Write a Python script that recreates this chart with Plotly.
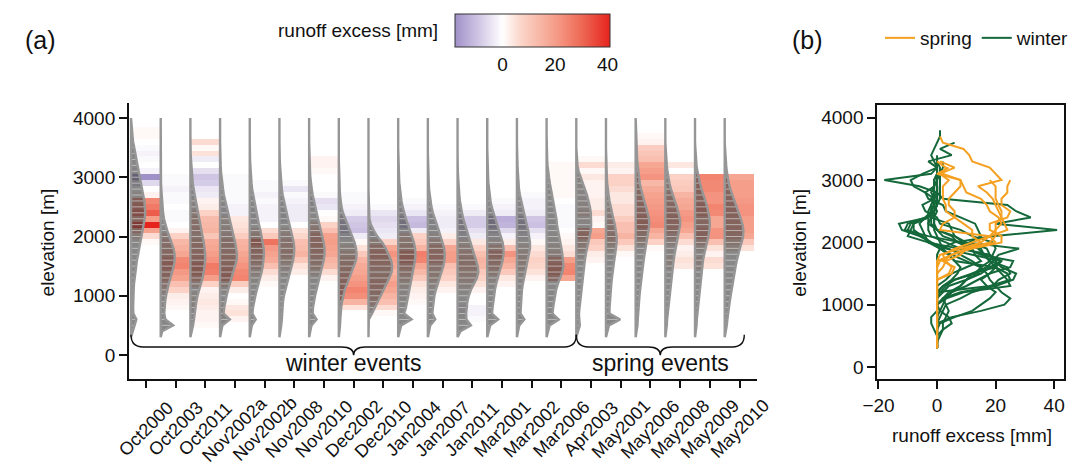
import plotly.graph_objects as go

# ---------------------------------------------------------------- data
ELEVATION = [300, 400, 500, 600, 700, 800, 900, 1000, 1100, 1200,
             1300, 1400, 1500, 1600, 1700, 1800, 1900, 2000, 2100, 2200,
             2300, 2400, 2500, 2600, 2700, 2800, 2900, 3000, 3100, 3200,
             3300, 3400, 3500, 3600, 3700, 3800, 3900, 4000]

EVENTS = ["Oct2000", "Oct2003", "Oct2011", "Nov2002a", "Nov2002b", "Nov2008",
          "Nov2010", "Dec2002", "Dec2010", "Jan2004", "Jan2007", "Jan2011",
          "Mar2001", "Mar2002", "Mar2006", "Apr2003", "May2001", "May2006",
          "May2008", "May2009", "May2010"]

SEASON = ["winter", "winter", "winter", "winter", "winter", "winter",
          "winter", "winter", "winter", "winter", "winter", "winter",
          "winter", "winter", "winter", "spring", "spring", "spring",
          "spring", "spring", "spring"]

N = None

# runoff excess [mm] per 100 m elevation band (300 ... 4000 m)
EXCESS_OCT2000 = [0, 0, 0, 0, 0, 0, 0, 0, 0, 0,
                  0, 0, 0, 0, 0, 0, 1, 6, 19, 41,
                  20, 32, 27, 24, 2, 0, -6, -18, -2, 0,
                  -1, -2, -1, 0, 1, 1, N, N]
EXCESS_OCT2003 = [0, 0, 0, 0, 0, 1, 2, 3, 8, 12,
                  19, 21, 25, 24, 18, 16, 14, 8, 2, 0,
                  -1, -1, 0, -1, -1, -2, -1, -1, 0, 0,
                  0, 0, N, N, N, N, N, N]
EXCESS_OCT2011 = [0, 0, 1, 2, 2, 3, 4, 3, 2, 8,
                  20, 26, 27, 22, 20, 18, 17, 11, 15, 14,
                  13, 8, 3, 2, -3, -4, -8, -9, -5, 0,
                  -3, 5, 1, 6, N, N, N, N]
EXCESS_NOV2002A = [0, 0, 0, 2, 5, 4, 1, 0, 3, 9,
                   25, 24, 22, 20, 18, 16, 15, 9, 6, 5,
                   4, -2, -2, -1, -1, -1, -1, -1, 0, 0,
                   0, N, N, N, N, N, N, N]
EXCESS_NOV2002B = [0, 0, 0, 0, 0, 0, 0, 0, 0, 1,
                   3, 6, 12, 17, 19, 21, 28, 10, 6, 0,
                   -2, -2, -2, -1, -2, -1, -1, 0, 0, 0,
                   N, N, N, N, N, N, N, N]
EXCESS_NOV2008 = [0, 0, 0, 0, 0, 0, 0, 0, 0, 0,
                  0, 3, 5, 10, 15, 13, 12, 7, 5, 0,
                  -3, -3, -3, -2, -1, -4, -1, 0, 0, 0,
                  N, N, N, N, N, N, N, N]
EXCESS_NOV2010 = [0, 0, 0, 0, 0, 0, 0, 0, 0, 0,
                  2, 6, 13, 15, 18, 19, 20, 19, 12, 8,
                  1, 0, -4, -5, -1, 0, 0, 0, 1, 2,
                  2, N, N, N, N, N, N, N]
EXCESS_DEC2002 = [0, 0, 0, 0, 0, 5, 15, 23, 25, 22,
                  20, 18, 17, 15, 10, 5, 1, -3, -10, -9,
                  -8, -3, -2, -1, -1, 0, 0, 0, N, N,
                  N, N, N, N, N, N, N, N]
EXCESS_DEC2010 = [0, 0, 0, 0, 1, 6, 12, 15, 18, 20,
                  17, 15, 18, 20, 22, 18, 8, -3, -4, -5,
                  -6, -4, -1, 0, 0, 0, 0, N, N, N,
                  N, N, N, N, N, N, N, N]
EXCESS_JAN2004 = [0, 0, 0, 0, 0, 0, 1, 2, 3, 5,
                  10, 14, 18, 25, 26, 15, 10, 8, -3, -11,
                  -10, -4, -2, -1, 0, 0, 0, 0, N, N,
                  N, N, N, N, N, N, N, N]
EXCESS_JAN2007 = [0, 0, 0, 0, 0, 0, 0, 0, 2, 4,
                  8, 10, 12, 20, 20, 18, 8, 3, -2, -3,
                  -3, -2, -1, 0, 0, 0, 0, N, N, N,
                  N, N, N, N, N, N, N, N]
EXCESS_JAN2011 = [0, 0, 0, -1, -2, -2, 0, 0, 2, 5,
                  8, 10, 14, 15, 12, 8, 4, -3, -5, -8,
                  -8, -3, -1, 0, 0, 0, 0, N, N, N,
                  N, N, N, N, N, N, N, N]
EXCESS_MAR2001 = [0, 0, 0, 0, 0, 0, 0, 0, 0, 2,
                  4, 10, 15, 18, 22, 12, 3, -2, -6, -12,
                  -13, -3, -2, -1, 0, 0, 0, N, N, N,
                  N, N, N, N, N, N, N, N]
EXCESS_MAR2002 = [0, 0, 0, 0, 0, 0, 0, 0, 0, 0,
                  2, 5, 7, 8, 6, 4, 1, -2, -5, -10,
                  -9, -3, -2, -2, -1, 0, 0, N, N, N,
                  N, N, N, N, N, N, N, N]
EXCESS_MAR2006 = [0, 0, 0, 0, 0, 0, 0, 0, 0, 0,
                  18, 25, 24, 20, 6, 4, 2, 1, 0, -1,
                  -1, -1, -1, 0, 1, 1, 1, 1, 1, 1,
                  0, N, N, N, N, N, N, N]
EXCESS_APR2003 = [0, 0, 0, 0, 0, 0, 0, 0, 0, 0,
                  0, 0, 0, 2, 3, 8, 10, 20, 18, 1,
                  2, 6, 3, 3, 2, 2, 2, 4, 1, 6,
                  1, N, N, N, N, N, N, N]
EXCESS_MAY2001 = [0, 0, 0, 0, 0, 0, 0, 0, 0, 0,
                  0, 0, 0, 0, 1, 5, 10, 15, 12, 12,
                  9, 6, 6, 4, 4, 6, 8, 8, 2, 3,
                  0, N, N, N, N, N, N, N]
EXCESS_MAY2006 = [0, 0, 0, 0, 0, 0, 0, 0, 0, 0,
                  0, 0, 0, 0, 0, 1, 8, 15, 18, 24,
                  23, 22, 21, 20, 19, 17, 14, 22, 20, 18,
                  12, 11, 9, 2, 1, N, N, N]
EXCESS_MAY2008 = [0, 0, 0, 0, 0, 0, 0, 0, 0, 0,
                  0, 0, 4, 5, 3, 2, 6, 12, 18, 20,
                  22, 21, 18, 17, 15, 10, 9, 8, 0, 4,
                  N, N, N, N, N, N, N, N]
EXCESS_MAY2009 = [0, 0, 0, 0, 0, 0, 0, 0, 0, 0,
                  0, 0, 5, 6, 2, 5, 12, 22, 22, 18,
                  18, 24, 25, 22, 22, 24, 24, 25, N, N,
                  N, N, N, N, N, N, N, N]
EXCESS_MAY2010 = [0, 0, 0, 0, 0, 0, 0, 0, 0, 0,
                  0, 0, 0, 0, 0, 5, 10, 18, 20, 20,
                  20, 22, 22, 21, 20, 20, 20, 18, N, N,
                  N, N, N, N, N, N, N, N]

# relative catchment area per elevation band (violin half-width, fraction of a slot)
AREA_OCT2000 = [0, .05, .12, .18, .08, .07, .07, .08, .09, .10,
                .12, .14, .17, .20, .24, .28, .32, .36, .40, .43,
                .46, .48, .47, .45, .41, .37, .33, .29, .25, .21,
                .17, .13, .10, .07, .05, .03, .02, 0]
AREA_OCT2003 = [0, .05, .42, .16, .12, .13, .15, .18, .22, .27,
                .33, .39, .44, .47, .47, .43, .37, .29, .22, .16,
                .11, .08, .06, .04, .03, .02, .01, .01, .01, 0,
                0, 0, 0, 0, 0, 0, 0, 0]
AREA_OCT2011 = [0, .05, .09, .12, .14, .17, .20, .24, .30, .36,
                .41, .45, .48, .50, .50, .48, .45, .41, .37, .33,
                .29, .25, .21, .17, .14, .11, .08, .06, .04, .03,
                .02, .01, 0, 0, 0, 0, 0, 0]
AREA_NOV2002A = [0, .04, .08, .33, .12, .14, .17, .22, .27, .33,
                 .40, .46, .52, .56, .57, .55, .51, .46, .41, .36,
                 .31, .26, .21, .17, .13, .10, .07, .05, .03, .02,
                 .01, 0, 0, 0, 0, 0, 0, 0]
AREA_NOV2002B = [0, .04, .07, .20, .09, .11, .14, .19, .24, .30,
                 .35, .40, .44, .47, .48, .47, .44, .40, .36, .31,
                 .27, .22, .18, .14, .11, .08, .06, .04, .03, .02,
                 .01, 0, 0, 0, 0, 0, 0, 0]
AREA_NOV2008 = [0, .04, .06, .08, .09, .10, .12, .15, .20, .26,
                .32, .37, .42, .46, .49, .50, .48, .44, .39, .34,
                .29, .24, .19, .15, .11, .08, .06, .04, .03, .02,
                .01, 0, 0, 0, 0, 0, 0, 0]
AREA_NOV2010 = [0, .04, .08, .25, .12, .13, .16, .20, .25, .30,
                .35, .40, .45, .49, .52, .52, .49, .45, .40, .35,
                .30, .25, .20, .16, .12, .09, .06, .04, .03, .02,
                .01, 0, 0, 0, 0, 0, 0, 0]
AREA_DEC2002 = [0, .03, .04, .05, .06, .08, .11, .15, .20, .28,
                .36, .44, .52, .58, .60, .58, .53, .45, .37, .29,
                .21, .14, .09, .06, .04, .03, .02, .01, 0, 0,
                0, 0, 0, 0, 0, 0, 0, 0]
AREA_DEC2010 = [0, 0, 0, .01, .12, .22, .31, .40, .50, .60,
                .70, .78, .80, .76, .68, .58, .46, .30, .18, .08,
                .03, .02, .01, 0, 0, 0, 0, 0, 0, 0,
                0, 0, 0, 0, 0, 0, 0, 0]
AREA_JAN2004 = [0, .05, .10, .45, .20, .26, .30, .34, .38, .42,
                .46, .50, .54, .57, .58, .57, .53, .47, .40, .33,
                .26, .20, .15, .11, .08, .05, .04, .03, .02, .01,
                0, 0, 0, 0, 0, 0, 0, 0]
AREA_JAN2007 = [0, .04, .08, .25, .15, .17, .19, .22, .27, .33,
                .40, .47, .52, .56, .57, .55, .50, .43, .37, .30,
                .23, .17, .12, .09, .06, .04, .03, .02, .01, 0,
                0, 0, 0, 0, 0, 0, 0, 0]
AREA_JAN2011 = [0, .10, .45, .30, .29, .30, .33, .38, .45, .55,
                .65, .70, .68, .62, .56, .50, .43, .36, .30, .24,
                .19, .15, .11, .08, .06, .04, .03, .02, .01, 0,
                0, 0, 0, 0, 0, 0, 0, 0]
AREA_MAR2001 = [0, .05, .10, .37, .16, .18, .20, .22, .26, .30,
                .36, .42, .47, .52, .55, .55, .52, .46, .40, .33,
                .26, .20, .15, .11, .08, .05, .04, .03, .02, .01,
                0, 0, 0, 0, 0, 0, 0, 0]
AREA_MAR2002 = [0, .04, .08, .25, .12, .13, .14, .15, .17, .20,
                .24, .29, .34, .38, .42, .44, .44, .42, .38, .33,
                .28, .23, .18, .14, .10, .07, .05, .04, .03, .02,
                .01, 0, 0, 0, 0, 0, 0, 0]
AREA_MAR2006 = [0, .05, .10, .41, .20, .22, .25, .28, .32, .38,
                .45, .53, .57, .56, .53, .50, .46, .42, .38, .35,
                .33, .29, .25, .21, .18, .14, .11, .08, .05, .03,
                .02, .01, 0, 0, 0, 0, 0, 0]
AREA_APR2003 = [0, .05, .12, .10, .09, .11, .13, .15, .17, .19,
                .21, .23, .26, .29, .32, .36, .41, .46, .49, .50,
                .50, .49, .46, .42, .36, .29, .22, .14, .08, .04,
                .02, .01, 0, 0, 0, 0, 0, 0]
AREA_MAY2001 = [0, .05, .10, .48, .12, .12, .13, .14, .16, .18,
                .20, .22, .25, .28, .31, .34, .36, .36, .34, .30,
                .25, .20, .16, .12, .09, .06, .04, .03, .02, .01,
                0, 0, 0, 0, 0, 0, 0, 0]
AREA_MAY2006 = [0, .04, .06, .07, .08, .10, .12, .13, .15, .17,
                .19, .21, .24, .27, .30, .33, .37, .41, .44, .46,
                .45, .41, .35, .29, .23, .18, .14, .11, .09, .07,
                .05, .04, .03, .02, .01, 0, 0, 0]
AREA_MAY2008 = [0, .03, .05, .06, .08, .10, .12, .14, .16, .18,
                .20, .22, .25, .28, .31, .35, .40, .44, .48, .50,
                .49, .45, .39, .32, .25, .19, .14, .10, .07, .05,
                .03, .02, .01, 0, 0, 0, 0, 0]
AREA_MAY2009 = [0, .03, .05, .06, .08, .10, .12, .13, .15, .17,
                .19, .21, .24, .27, .31, .36, .41, .45, .48, .50,
                .49, .46, .41, .35, .28, .22, .17, .12, .08, .05,
                .03, .02, .01, 0, 0, 0, 0, 0]
AREA_MAY2010 = [0, .04, .07, .09, .11, .14, .17, .20, .23, .26,
                .29, .33, .37, .41, .45, .51, .57, .62, .63, .60,
                .54, .47, .39, .32, .25, .19, .14, .10, .07, .05,
                .03, .02, .01, 0, 0, 0, 0, 0]

excess = [EXCESS_OCT2000, EXCESS_OCT2003, EXCESS_OCT2011, EXCESS_NOV2002A,
          EXCESS_NOV2002B, EXCESS_NOV2008, EXCESS_NOV2010, EXCESS_DEC2002,
          EXCESS_DEC2010, EXCESS_JAN2004, EXCESS_JAN2007, EXCESS_JAN2011,
          EXCESS_MAR2001, EXCESS_MAR2002, EXCESS_MAR2006, EXCESS_APR2003,
          EXCESS_MAY2001, EXCESS_MAY2006, EXCESS_MAY2008, EXCESS_MAY2009,
          EXCESS_MAY2010]
area = [AREA_OCT2000, AREA_OCT2003, AREA_OCT2011, AREA_NOV2002A, AREA_NOV2002B,
        AREA_NOV2008, AREA_NOV2010, AREA_DEC2002, AREA_DEC2010, AREA_JAN2004,
        AREA_JAN2007, AREA_JAN2011, AREA_MAR2001, AREA_MAR2002, AREA_MAR2006,
        AREA_APR2003, AREA_MAY2001, AREA_MAY2006, AREA_MAY2008, AREA_MAY2009,
        AREA_MAY2010]

# ---------------------------------------------------------------- styling
W, H = 1075, 465
FONT = "Liberation Sans, Arial, sans-serif"
INK = "#111111"
SEASON_COLOR = {"spring": "#f5a020", "winter": "#14683a"}


def px_x(p):
    return p / W


def px_y(p):
    return 1 - p / H


n_ev = len(EVENTS)
vals = [v for col in excess for v in col if v is not None]
zmin, zmax = min(vals), max(vals)

# diverging palette anchored at data values, normalised to [zmin, zmax]
palette = [(zmin, "rgb(160,144,200)"), (-9, "rgb(208,198,228)"), (0, "rgb(255,255,255)"),
           (7, "rgb(251,214,202)"), (20, "rgb(245,158,138)"), (30, "rgb(238,106,86)"),
           (zmax, "rgb(230,36,30)")]
colorscale = [[(v - zmin) / (zmax - zmin), c] for v, c in palette]

fig = go.Figure()

# panel (a): heat bands, one column per event
z = [[excess[i][k] for i in range(n_ev)] for k in range(len(ELEVATION))]
fig.add_trace(go.Heatmap(
    x=[i + 0.5 for i in range(n_ev)], y=ELEVATION, z=z,
    zmin=zmin, zmax=zmax, colorscale=colorscale, hoverinfo="skip",
    colorbar=dict(orientation="h", x=px_x(526.5), xanchor="center",
                  y=px_y(69), yanchor="bottom", len=155, lenmode="pixels",
                  thickness=33, thicknessmode="pixels", outlinewidth=1,
                  outlinecolor="#333333", tickvals=[0, 20, 40], ticks="",
                  tickfont=dict(size=19, color=INK, family=FONT),
                  xpad=0, ypad=0),
    xaxis="x", yaxis="y"))

# violins: filled half-shapes, stripes at each band, outline
fx, fy, sx, sy = [], [], [], []
for i in range(n_ev):
    fx += [i + w for w in area[i]] + [i, None]
    fy += ELEVATION + [ELEVATION[0], None]
    for e, w in zip(ELEVATION, area[i]):
        if w > 0:
            sx += [i, i + w, None]
            sy += [e, e, None]

fig.add_trace(go.Scatter(x=fx, y=fy, mode="lines", fill="toself",
                         fillcolor="rgba(68,68,68,0.64)", line=dict(width=0),
                         hoverinfo="skip", showlegend=False, xaxis="x", yaxis="y"))
fig.add_trace(go.Scatter(x=sx, y=sy, mode="lines",
                         line=dict(color="rgba(205,205,205,0.75)", width=1),
                         hoverinfo="skip", showlegend=False, xaxis="x", yaxis="y"))
fig.add_trace(go.Scatter(x=fx, y=fy, mode="lines",
                         line=dict(color="rgb(150,150,150)", width=2.4),
                         hoverinfo="skip", showlegend=False, xaxis="x", yaxis="y"))

# panel (b): excess profiles
shown = set()
for i in range(n_ev):
    s = SEASON[i]
    fig.add_trace(go.Scatter(
        x=excess[i], y=ELEVATION, mode="lines", name=s,
        line=dict(color=SEASON_COLOR[s], width=2),
        legendgroup=s, showlegend=s not in shown,
        legendrank=1 if s == "spring" else 2,
        hoverinfo="skip", xaxis="x2", yaxis="y2"))
    shown.add(s)

# braces grouping winter and spring events
n_winter = SEASON.count("winter")
y_top, y_mid, y_tip, dx = 340, 135, -5, 0.4


def brace(x0, x1):
    xc = (x0 + x1) / 2
    return (f"M {x0},{y_top} Q {x0},{y_mid} {x0 + dx},{y_mid} L {xc - dx},{y_mid} "
            f"Q {xc},{y_mid} {xc},{y_tip} Q {xc},{y_mid} {xc + dx},{y_mid} "
            f"L {x1 - dx},{y_mid} Q {x1},{y_mid} {x1},{y_top}")


groups = [("winter events", 0, n_winter), ("spring events", n_winter, n_ev - 0.34)]
shapes = []
annotations = []
for label, a, b in groups:
    shapes.append(dict(type="path", path=brace(a, b), xref="x", yref="y",
                       line=dict(color=INK, width=1.4)))
    annotations.append(dict(text=label, x=(a + b) / 2, y=-130, xref="x", yref="y",
                            showarrow=False, xanchor="center", yanchor="middle",
                            font=dict(size=23, color=INK, family=FONT)))

# rotated event labels centred under the ticks
for i, name in enumerate(EVENTS):
    annotations.append(dict(text=name, x=i + 0.5, y=px_y(429), xref="x", yref="paper",
                            showarrow=False, textangle=-45, xanchor="center",
                            yanchor="middle", font=dict(size=18, color=INK, family=FONT)))

annotations += [
    dict(text="(a)", x=px_x(8), y=px_y(40), xref="paper", yref="paper", showarrow=False,
         xanchor="left", yanchor="middle", font=dict(size=25, color=INK, family=FONT)),
    dict(text="(b)", x=px_x(788), y=px_y(40), xref="paper", yref="paper", showarrow=False,
         xanchor="left", yanchor="middle", font=dict(size=25, color=INK, family=FONT)),
    dict(text="runoff excess [mm]", x=px_x(432), y=px_y(31), xref="paper", yref="paper",
         showarrow=False, xanchor="right", yanchor="middle",
         font=dict(size=19, color=INK, family=FONT)),
    dict(text="elevation [m]", x=px_x(34), y=px_y(242), xref="paper", yref="paper",
         showarrow=False, textangle=-90, xanchor="center", yanchor="middle",
         font=dict(size=19, color=INK, family=FONT)),
    dict(text="elevation [m]", x=px_x(797), y=px_y(243), xref="paper", yref="paper",
         showarrow=False, textangle=-90, xanchor="center", yanchor="middle",
         font=dict(size=19, color=INK, family=FONT)),
    dict(text="runoff excess [mm]", x=px_x(973), y=px_y(435), xref="paper", yref="paper",
         showarrow=False, xanchor="center", yanchor="middle",
         font=dict(size=19, color=INK, family=FONT)),
]

axis_common = dict(showline=True, linecolor=INK, linewidth=2, ticks="outside",
                   tickcolor=INK, tickwidth=2, showgrid=False, zeroline=False,
                   tickfont=dict(size=19, color=INK, family=FONT))

fig.update_layout(
    width=W, height=H, margin=dict(l=0, r=0, t=0, b=0),
    paper_bgcolor="white", plot_bgcolor="white",
    font=dict(family=FONT, color=INK),
    xaxis=dict(domain=[px_x(116), px_x(755)], range=[-0.066, 21.1],
               tickvals=[i + 0.5 for i in range(n_ev)], showticklabels=False,
               ticklen=7, **axis_common),
    yaxis=dict(domain=[px_y(379), px_y(103)], range=[-405, 4253],
               tickvals=[0, 1000, 2000, 3000, 4000], ticklen=8, **axis_common),
    xaxis2=dict(domain=[px_x(877), px_x(1067)], range=[-20.4, 43.4],
                tickvals=[-20, 0, 20, 40], ticklen=8, mirror=True, anchor="y2",
                **axis_common),
    yaxis2=dict(domain=[px_y(379), px_y(105)], range=[-193, 4205],
                tickvals=[0, 1000, 2000, 3000, 4000], ticklen=8, mirror=True,
                anchor="x2", **axis_common),
    legend=dict(orientation="h", x=px_x(880), xanchor="left", y=px_y(38),
                yanchor="middle", font=dict(size=19, color=INK, family=FONT),
                bgcolor="rgba(0,0,0,0)", itemwidth=30, tracegroupgap=0),
    shapes=shapes, annotations=annotations,
)

fig.write_html("out.html")
